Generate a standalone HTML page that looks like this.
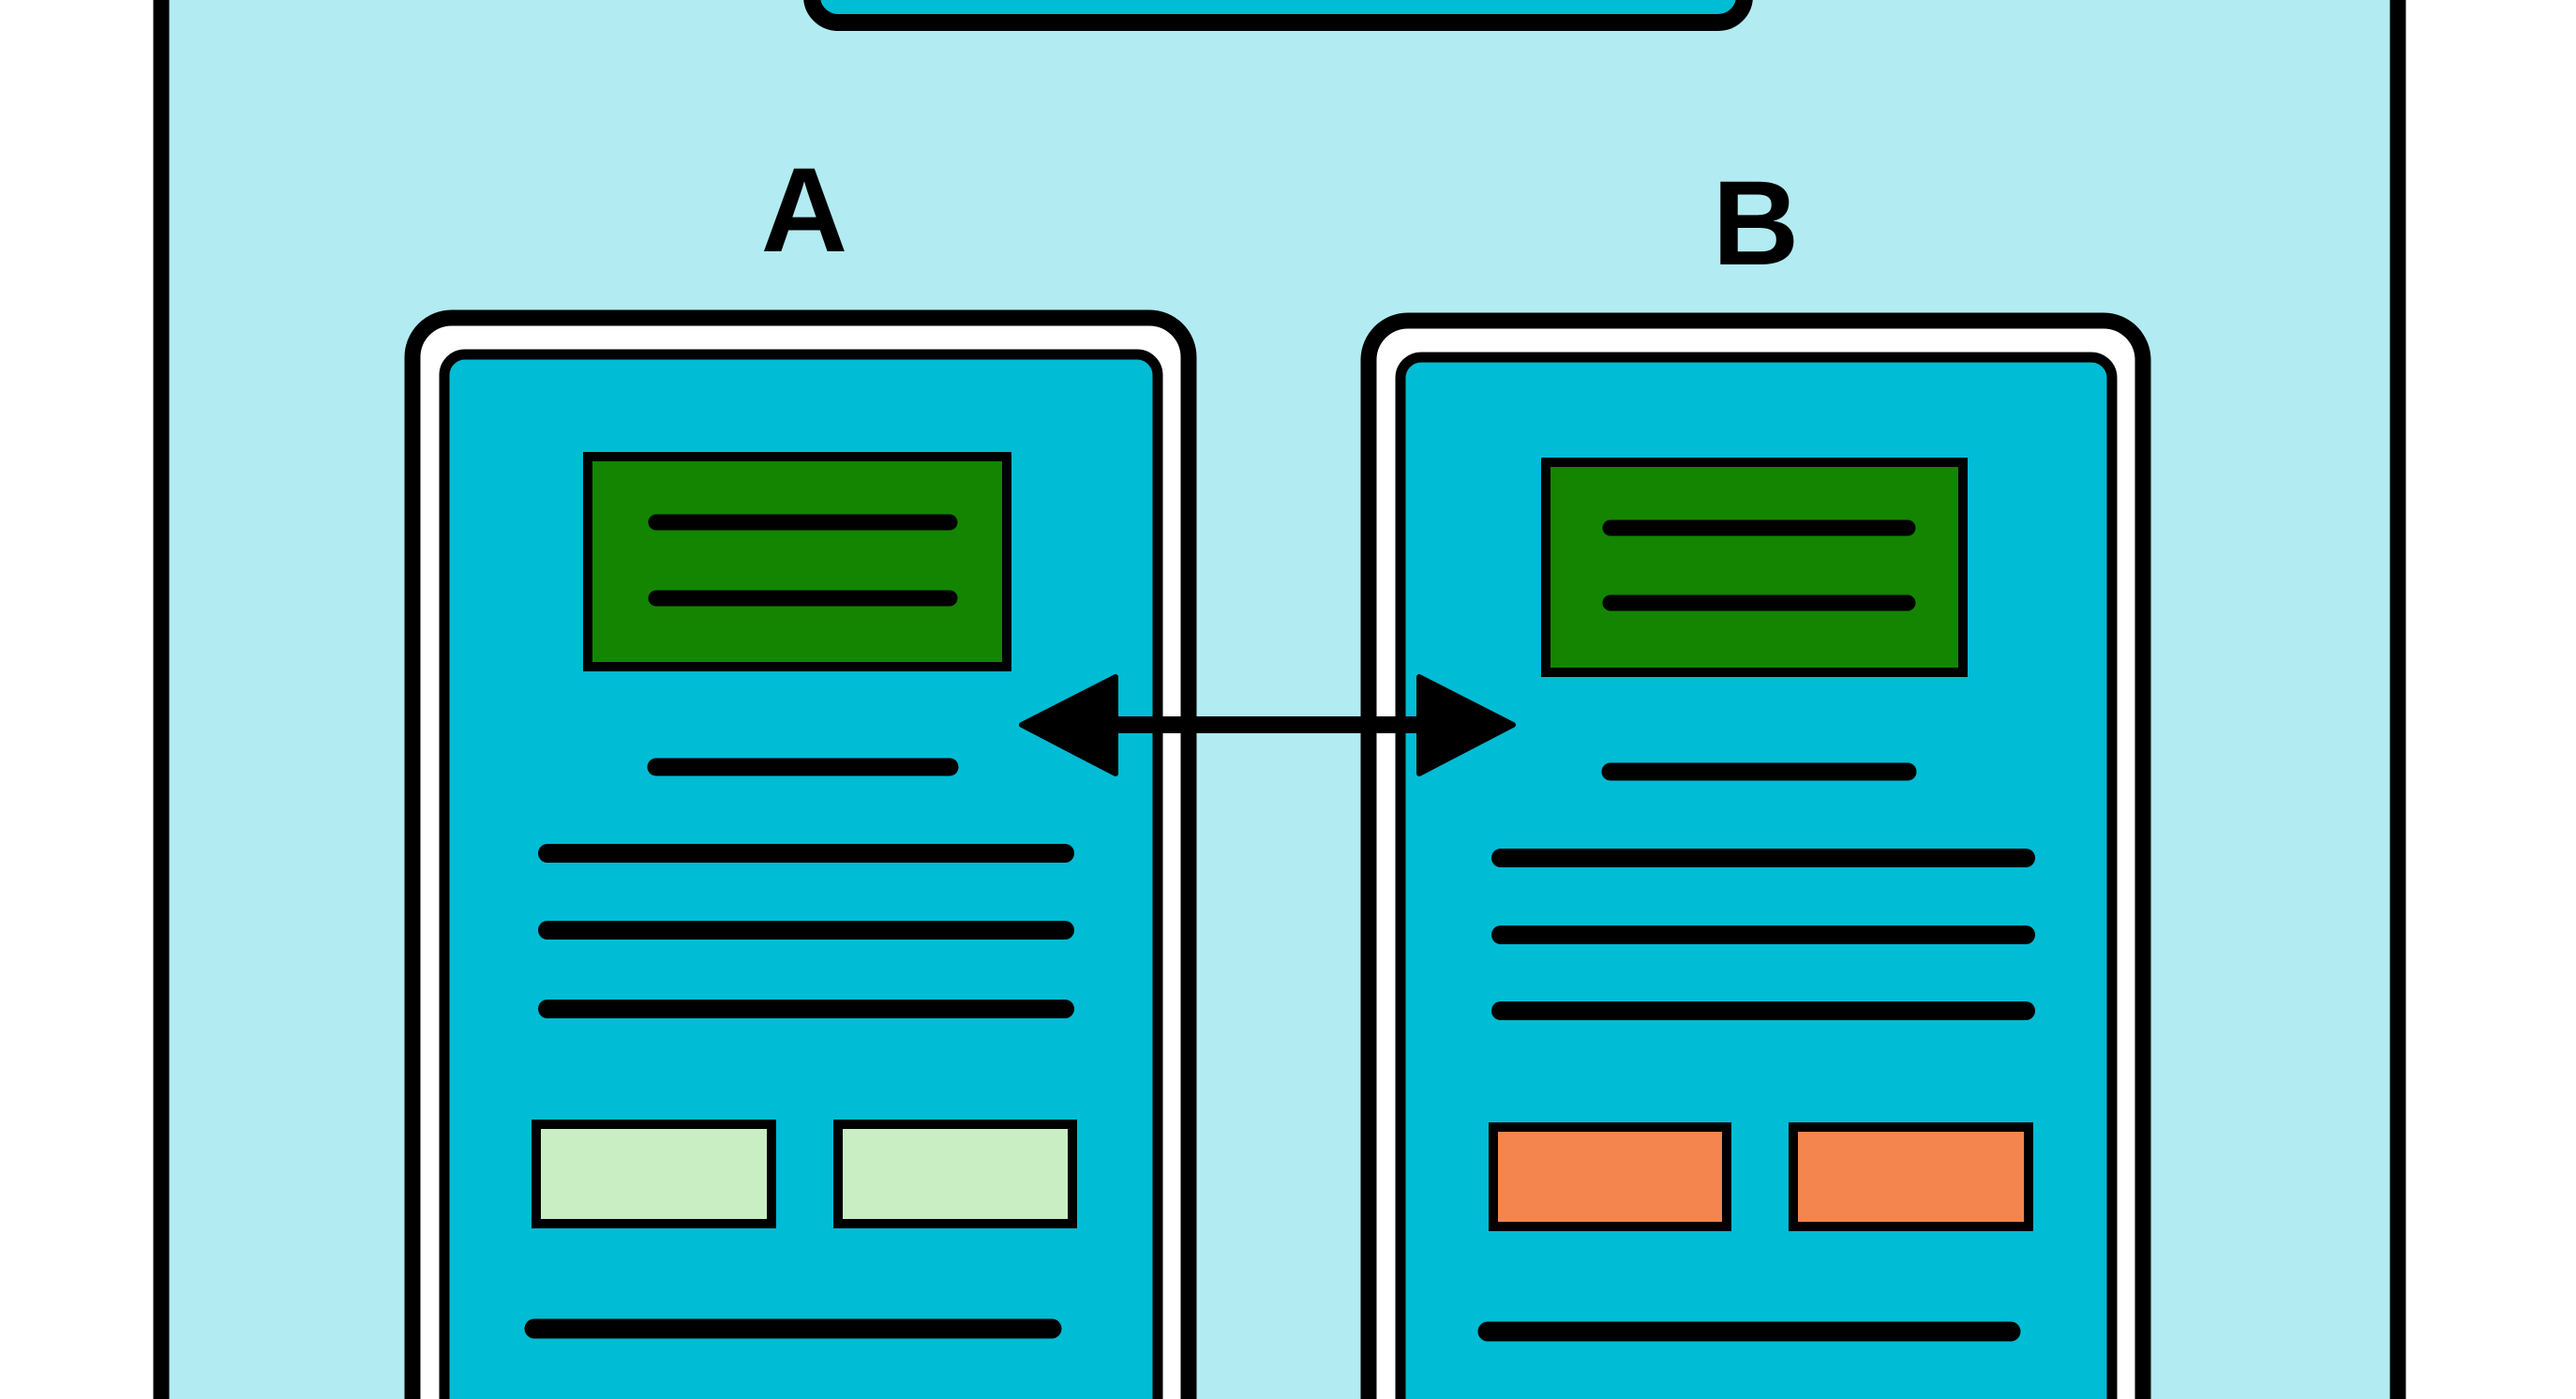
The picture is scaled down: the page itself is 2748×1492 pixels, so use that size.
<!DOCTYPE html>
<html><head><meta charset="utf-8"><style>html,body{margin:0;padding:0;background:#fff;overflow:hidden;width:2748px;height:1492px}svg{display:block;overflow:hidden}</style></head>
<body>
<svg width="2748" height="1492" viewBox="0 0 2748 1492" xmlns="http://www.w3.org/2000/svg">
  <rect x="172" y="-40" width="2386" height="1600" fill="#b2ebf2" stroke="#000" stroke-width="17"/>
  <rect x="866" y="-80" width="995" height="104" rx="28" fill="#00bcd4" stroke="#000" stroke-width="18"/>
  <text x="858" y="268" text-anchor="middle" font-family="Liberation Sans, sans-serif" font-weight="bold" font-size="128">A</text>
  <text x="1873" y="282" text-anchor="middle" font-family="Liberation Sans, sans-serif" font-weight="bold" font-size="128">B</text>

  <g>
    <rect x="440" y="339" width="828" height="1300" rx="42" fill="#fff" stroke="#000" stroke-width="17"/>
    <rect x="474" y="378" width="761" height="1250" rx="22" fill="#00bcd4" stroke="#000" stroke-width="11"/>
    <rect x="627" y="487" width="447" height="224" fill="#138500" stroke="#000" stroke-width="10"/>
    <g stroke="#000" stroke-linecap="round" fill="none">
      <line x1="700" y1="557" x2="1013" y2="557" stroke-width="17"/>
      <line x1="700" y1="638" x2="1013" y2="638" stroke-width="17"/>
      <line x1="700" y1="818" x2="1013" y2="818" stroke-width="19"/>
      <line x1="584" y1="910" x2="1136" y2="910" stroke-width="20"/>
      <line x1="584" y1="992" x2="1136" y2="992" stroke-width="20"/>
      <line x1="584" y1="1076" x2="1136" y2="1076" stroke-width="20"/>
      <line x1="570" y1="1417" x2="1122" y2="1417" stroke-width="21"/>
    </g>
    <rect x="572" y="1199" width="251" height="106" fill="#c9eec4" stroke="#000" stroke-width="10"/>
    <rect x="894" y="1199" width="250" height="106" fill="#c9eec4" stroke="#000" stroke-width="10"/>
  </g>

  <g transform="translate(1018,3)">
    <rect x="442" y="339" width="826" height="1300" rx="42" fill="#fff" stroke="#000" stroke-width="17"/>
    <rect x="476" y="378" width="759" height="1250" rx="22" fill="#00bcd4" stroke="#000" stroke-width="11"/>
    <rect x="631" y="490" width="445" height="224" fill="#138500" stroke="#000" stroke-width="10"/>
    <g stroke="#000" stroke-linecap="round" fill="none">
      <line x1="700" y1="560" x2="1017" y2="560" stroke-width="17"/>
      <line x1="700" y1="640" x2="1017" y2="640" stroke-width="17"/>
      <line x1="700" y1="820" x2="1017" y2="820" stroke-width="19"/>
      <line x1="583" y1="912" x2="1143" y2="912" stroke-width="20"/>
      <line x1="583" y1="994" x2="1143" y2="994" stroke-width="20"/>
      <line x1="583" y1="1075" x2="1143" y2="1075" stroke-width="20"/>
      <line x1="569" y1="1417" x2="1127" y2="1417" stroke-width="21"/>
    </g>
    <rect x="575" y="1199" width="249" height="106" fill="#f5854f" stroke="#000" stroke-width="10"/>
    <rect x="895" y="1199" width="251" height="106" fill="#f5854f" stroke="#000" stroke-width="10"/>
  </g>

  <g>
    <line x1="1180" y1="773" x2="1522" y2="773" stroke="#000" stroke-width="18"/>
    <polygon points="1090,773 1190,722 1190,825" fill="#000" stroke="#000" stroke-width="6" stroke-linejoin="round"/>
    <polygon points="1614,773 1514,722 1514,825" fill="#000" stroke="#000" stroke-width="6" stroke-linejoin="round"/>
  </g>
</svg>
</body></html>
